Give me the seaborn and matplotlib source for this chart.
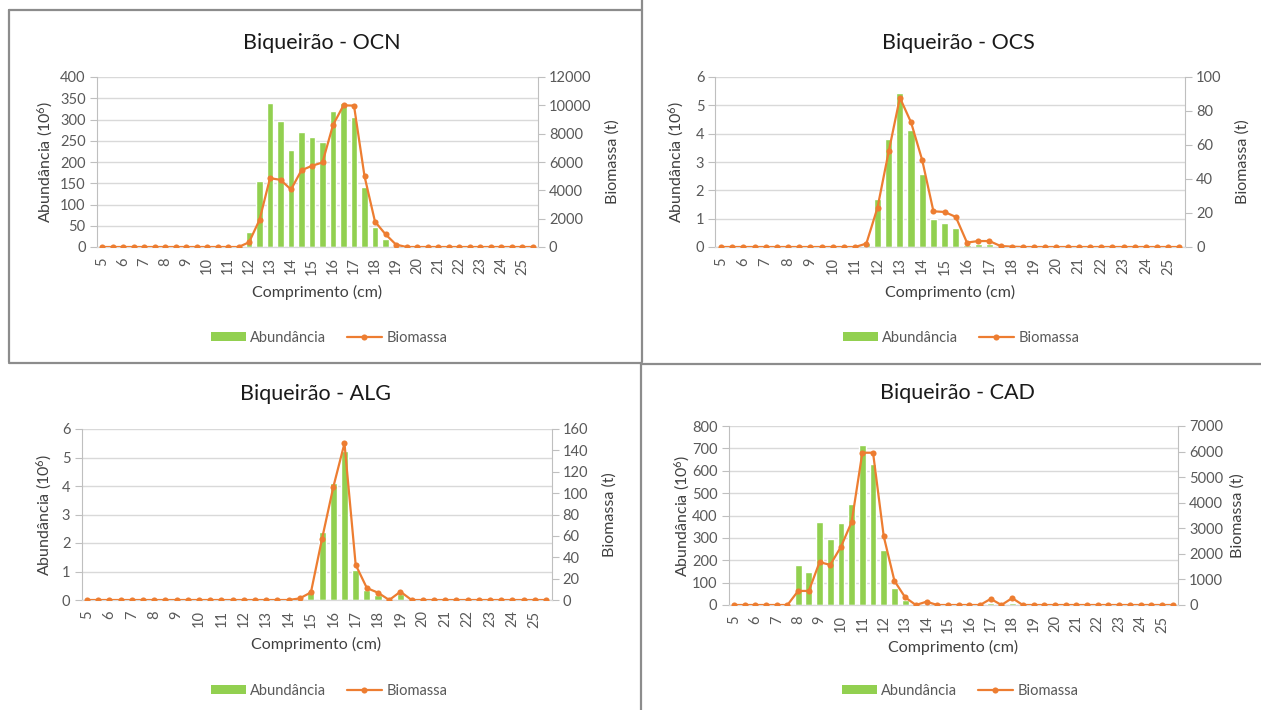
import numpy as np
import pandas as pd
import matplotlib
matplotlib.use("Agg")
import matplotlib.pyplot as plt
from matplotlib.patches import Patch
from matplotlib.lines import Line2D
import seaborn as sns

# ---------------- data ----------------
comprimento = np.arange(5.0, 26.0, 0.5)  # 5.0 ... 25.5 cm (42 classes)

ocn_abund = [0]*14 + [35, 155, 339, 296, 228, 270, 260, 246, 319, 338, 306, 141, 46, 20] + [0]*14
ocn_bio = [0]*14 + [330, 1910, 4860, 4740, 4060, 5420, 5730, 5970, 8610, 10000, 9980, 5000, 1790, 900, 170] + [0]*13

ocs_abund = [0]*13 + [0.15, 1.71, 3.81, 5.42, 4.13, 2.59, 0.98, 0.86, 0.68, 0.07, 0.09, 0.12] + [0]*17
ocs_bio = [0]*13 + [2, 23.2, 56.2, 87.8, 73.3, 51, 21, 20.6, 17.7, 2.6, 3.5, 3.5, 0.6, 0.2] + [0]*15

alg_abund = [0]*19 + [0.03, 0.33, 2.37, 4.10, 5.23, 1.07, 0.35, 0.17, 0.0, 0.2] + [0]*13
alg_bio = [0]*19 + [1.5, 7.1, 57.5, 105.6, 146.6, 33, 11.2, 6.8, 0, 7.8] + [0]*13

cad_abund = [0]*6 + [178, 146, 372, 296, 365, 450, 717, 628, 247, 76, 22, 0, 3, 0, 0, 0, 0, 0, 8, 0, 8] + [0]*15
cad_bio = [0]*6 + [550, 550, 1675, 1570, 2277, 3246, 5955, 5955, 2683, 942, 300, 0, 130, 0, 0, 0, 0, 0, 240, 0, 270] + [0]*15

titles = ["Biqueirão - OCN", "Biqueirão - OCS", "Biqueirão - ALG", "Biqueirão - CAD"]
left_max = [400, 6, 6, 800]
left_step = [50, 1, 1, 100]
right_max = [12000, 100, 160, 7000]
right_step = [2000, 20, 20, 1000]

# ---------------- style ----------------
sns.set_style("white")
plt.rcParams["font.family"] = ["Lato", "DejaVu Sans"]
plt.rcParams["mathtext.default"] = "regular"

W, H = 1261, 710
fig = plt.figure(figsize=(W / 100, H / 100), dpi=100)

GREEN = "#92D050"
ORANGE = "#ED7D31"
GRID = "#D9D9D9"
AX = "#BFBFBF"
TXT = "#595959"

# pixel boxes: left, right, top, bottom
boxes = [(96.75, 537.75, 77, 247), (715.4, 1185, 77, 247),
         (81.5, 551.5, 429, 600), (728.6, 1178, 426, 605)]
ylab_px = [45, 676, 44, 682]
ylab2_px = [613, 1243, 610, 1238]
xlab_px = [292, 292, 644, 647]
title_pos = [(322, 43), (958, 43), (315, 394), (957, 393)]
legend_pos = [(329, 338), (961, 338), (329, 691), (960, 691)]

series = [(ocn_abund, ocn_bio), (ocs_abund, ocs_bio), (alg_abund, alg_bio), (cad_abund, cad_bio)]

for k, (ab, bio) in enumerate(series):
    l, r, t, b = boxes[k]
    ax = fig.add_axes([l / W, 1 - b / H, (r - l) / W, (b - t) / H])
    df = pd.DataFrame({"pos": np.arange(len(comprimento)), "comp": comprimento,
                       "abund": ab, "bio": bio})
    sns.barplot(data=df, x="pos", y="abund", ax=ax, color=GREEN, width=0.64,
                saturation=1, zorder=2)
    ax.set_axisbelow(True)
    ax.set_ylim(0, left_max[k])
    ax.set_yticks(np.arange(0, left_max[k] + left_step[k] / 2, left_step[k]))
    ax.grid(axis="y", color=GRID, linewidth=1.0)
    ax.grid(axis="x", visible=False)
    ax2 = ax.twinx()
    sns.lineplot(data=df, x="pos", y="bio", ax=ax2, color=ORANGE, linewidth=1.6,
                 marker="o", markersize=4.4, markeredgewidth=0, zorder=3)
    ax2.set_ylim(0, right_max[k])
    ax2.set_yticks(np.arange(0, right_max[k] + right_step[k] / 2, right_step[k]))
    ax2.grid(False)
    ax.set_xlim(-0.5, len(comprimento) - 0.5)
    ticks = df["pos"][::2]
    ax.set_xticks(ticks)
    ax.set_xticklabels([f"{c:g}" for c in df["comp"][::2]], rotation=90)
    for a in (ax, ax2):
        a.spines["top"].set_visible(False)
        a.spines["left"].set_color(AX)
        a.spines["right"].set_color(AX)
        a.spines["bottom"].set_color(GRID)
        a.set_xlabel("")
    ax2.spines["left"].set_visible(False)
    ax.spines["right"].set_visible(False)
    ax.tick_params(axis="y", which="both", left=True, length=5, color=AX,
                   labelsize=10.5, labelcolor=TXT, pad=3)
    ax.tick_params(axis="x", bottom=False, labelsize=10.5, labelcolor=TXT, pad=4)
    ax2.tick_params(axis="y", right=True, length=5, color=AX, labelsize=10.5,
                    labelcolor=TXT, pad=3)
    # axis titles placed in pixel coordinates (centered)
    ax.set_ylabel("")
    ax2.set_ylabel("")
    yc = 1 - (t + b) / 2 / H
    fig.text(ylab_px[k] / W, yc, "Abundância (10$^6$)", rotation=90, ha="center",
             va="center", fontsize=11.5, color="#404040")
    fig.text(ylab2_px[k] / W, yc, "Biomassa (t)", rotation=90, ha="center",
             va="center", fontsize=11.5, color="#404040")
    fig.text((l + r) / 2 / W, 1 - xlab_px[k] / H, "Comprimento (cm)", ha="center",
             va="center", fontsize=11.5, color="#404040")
    tx, ty = title_pos[k]
    fig.text(tx / W, 1 - ty / H, titles[k], ha="center", va="center",
             fontsize=15.5, color="#1a1a1a")
    handles = [Patch(facecolor=GREEN, edgecolor="none"),
               Line2D([0], [0], color=ORANGE, linewidth=1.6, marker="o",
                      markersize=4.4, markeredgewidth=0)]
    lx, ly = legend_pos[k]
    ax2.legend(handles, ["Abundância", "Biomassa"], loc="center",
               bbox_to_anchor=(lx / W, 1 - ly / H), bbox_transform=fig.transFigure,
               ncol=2, frameon=False, fontsize=10.5, handlelength=2.4,
               handleheight=0.6, handletextpad=0.3, columnspacing=1.4,
               labelcolor=TXT)

# panel borders
BORDER = "#8C8C8C"
def hline(y, x0, x1):
    fig.add_artist(Line2D([x0 / W, x1 / W], [1 - y / H, 1 - y / H], color=BORDER, linewidth=1.6))
def vline(x, y0, y1):
    fig.add_artist(Line2D([x / W, x / W], [1 - y0 / H, 1 - y1 / H], color=BORDER, linewidth=1.6))

vline(8.5, 10, 362)
hline(10, 8.5, 641.5)
vline(641.5, 0, 362)
vline(640.5, 363, 710)
hline(362.5, 8.5, 641)
hline(363.5, 641, 1261)

fig.savefig("out.png", dpi=100)
